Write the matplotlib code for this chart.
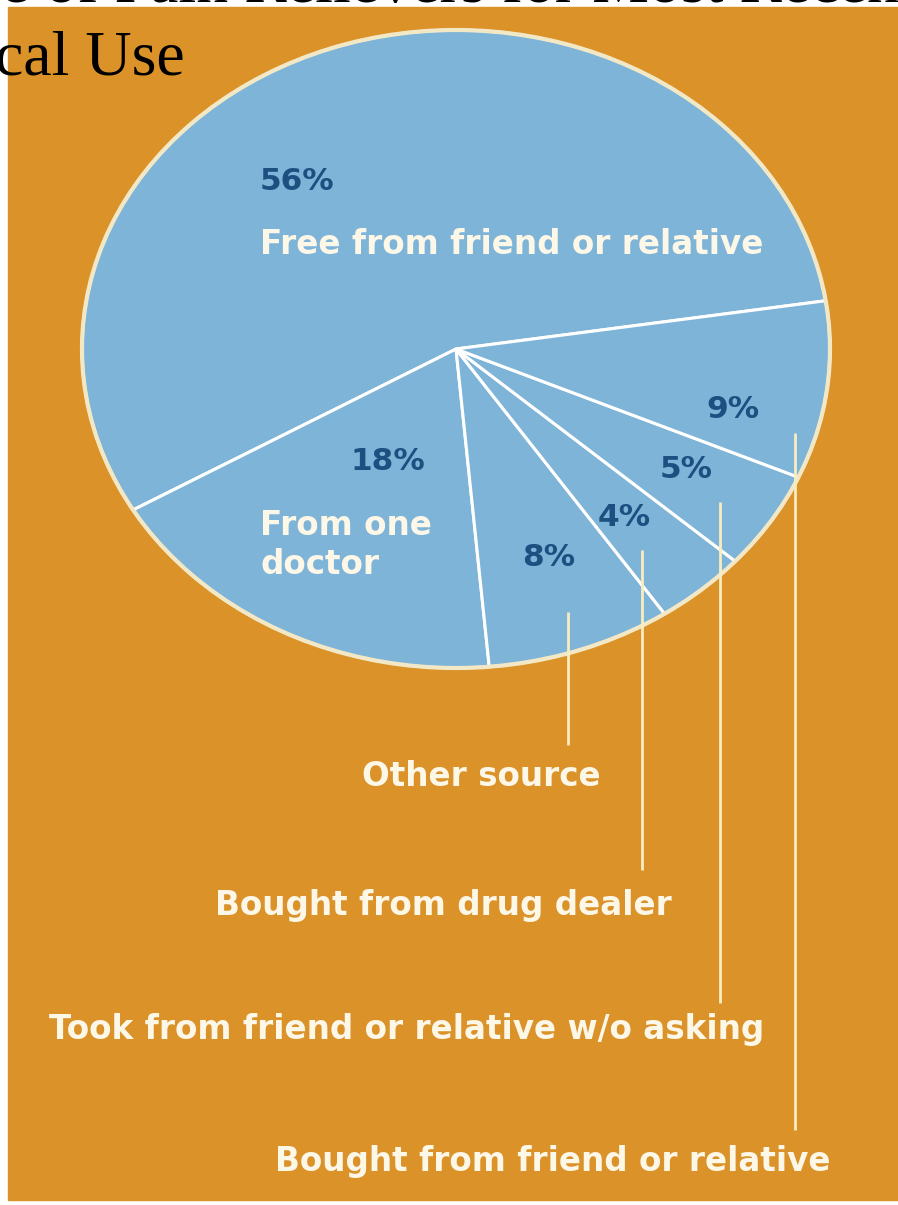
import matplotlib.pyplot as plt
from matplotlib.patches import Rectangle, Ellipse

# data
sources = ["Free from friend or relative", "From one\ndoctor", "Other source",
           "Bought from drug dealer", "Took from friend or relative w/o asking",
           "Bought from friend or relative"]
shares = [56, 18, 8, 4, 5, 9]
pct_labels = [str(v) + "%" for v in shares]

W, H = 898, 1205
ORANGE = '#DA9229'
BLUE = '#7EB4D8'
DARK = '#1D4F80'
CREAM = '#FDF7E8'
LEAD = '#F9EDC0'

fig = plt.figure(figsize=(W / 100, H / 100), dpi=100)
fig.patch.set_facecolor('white')

# orange panel (pixel coords)
bg = fig.add_axes([0, 0, 1, 1], zorder=0)
bg.set_xlim(0, W)
bg.set_ylim(H, 0)
bg.axis('off')
bg.add_patch(Rectangle((8, 7), W - 8, 1193, color=ORANGE))

# the pie is squashed into an ellipse by its axes box
x0, x1, y0, y1 = 82, 830, 30, 668
ax = fig.add_axes([x0 / W, 1 - y1 / H, (x1 - x0) / W, (y1 - y0) / H], zorder=1)
wedges, _ = ax.pie(shares, startangle=8.7, counterclock=True, colors=[BLUE] * len(shares),
                   wedgeprops=dict(edgecolor='white', linewidth=2.2))
for w in wedges:
    w.set_clip_on(False)
ax.add_patch(Ellipse((0, 0), 2, 2, fill=False, ec='#F3E8C6', lw=3, clip_on=False))
ax.set_aspect('auto')
ax.set_xlim(-1, 1)
ax.set_ylim(-1, 1)
ax.axis('off')

# overlay for text and leader lines (pixel coords)
ov = fig.add_axes([0, 0, 1, 1], zorder=2)
ov.set_xlim(0, W)
ov.set_ylim(H, 0)
ov.axis('off')

# title, clipped by the figure edge like in the source image
ov.text(-148, 2, "Source of Pain Relievers for Most Recent", family='Liberation Serif',
        fontsize=46, va='baseline', ha='left', color='black')
ov.text(185, 76, "Nonmedical Use", family='Liberation Serif',
        fontsize=46, va='baseline', ha='right', color='black')

pfont = dict(family='DejaVu Sans', fontweight='bold', fontsize=22.5, color=DARK, va='center')
lfont = dict(family='DejaVu Sans', fontweight='bold', fontsize=23.5, color=CREAM, va='center')

# labels inside the pie
pct_pos = [(260, 182), (350, 462), (522, 558), (598, 518), (660, 470), (706, 409)]
for (px, py), t in zip(pct_pos, pct_labels):
    ov.text(px, py, t, ha='left', **pfont)
ov.text(260, 245, sources[0], ha='left', **lfont)
ov.text(260, 545, sources[1], ha='left', linespacing=1.2, **lfont)

# outside labels with vertical leaders
leaders = [(568, 612, 745), (642, 550, 870), (720, 502, 1003), (795, 433, 1130)]
out_pos = [(481, 776), (443, 905), (407, 1030), (553, 1162)]
for (lx, ya, yb), (tx, ty), t in zip(leaders, out_pos, sources[2:]):
    ov.plot([lx, lx], [ya, yb], color=LEAD, lw=2, solid_capstyle='butt')
    ov.text(tx, ty, t, ha='center', **lfont)

fig.savefig('out.png', dpi=100, facecolor='white')
